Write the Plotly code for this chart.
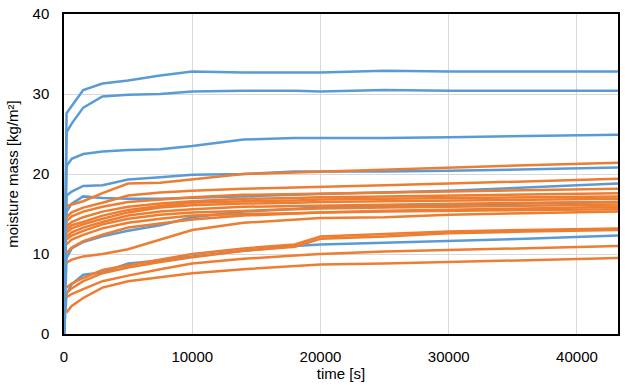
import plotly.graph_objects as go

# time grid [s]
time = [0, 200, 600, 1500, 3000, 5000, 7500, 10000, 14000, 18000, 20000, 25000, 30000, 36000, 43200]

# blue series (start at t=0)
blue_series = [
    [0, 27.6, 28.5, 30.5, 31.3, 31.7, 32.3, 32.8, 32.7, 32.7, 32.7, 32.9, 32.8, 32.8, 32.8],
    [0, 25.2, 26.3, 28.3, 29.7, 29.9, 30.0, 30.3, 30.4, 30.4, 30.3, 30.5, 30.4, 30.4, 30.4],
    [0, 21.0, 21.9, 22.5, 22.8, 23.0, 23.1, 23.5, 24.3, 24.5, 24.5, 24.5, 24.6, 24.7, 24.9],
    [0, 17.3, 17.8, 18.5, 18.6, 19.3, 19.6, 19.9, 20.0, 20.3, 20.3, 20.3, 20.4, 20.6, 20.8],
    [0, 15.3, 16.3, 17.2, 17.0, 16.9, 16.9, 17.0, 17.2, 17.4, 17.5, 17.7, 17.9, 18.3, 18.8],
    [0, 9.5, 10.7, 11.5, 12.2, 12.9, 13.6, 14.6, 15.3, 15.6, 15.8, 16.0, 16.1, 16.3, 16.5],
    [0, 5.0, 6.2, 7.4, 7.7, 8.8, 9.2, 9.7, 10.4, 11.0, 11.2, 11.4, 11.6, 11.9, 12.3],
]

# orange series (start at t=200)
orange_series = [
    [16.0, 16.2, 16.6, 17.6, 18.8, 18.9, 19.3, 20.0, 20.2, 20.3, 20.6, 20.8, 21.1, 21.4],
    [14.6, 15.2, 15.8, 16.4, 17.3, 17.7, 17.9, 18.15, 18.3, 18.4, 18.6, 18.8, 19.1, 19.4],
    [14.1, 14.7, 15.3, 15.9, 16.5, 16.8, 17.1, 17.4, 17.5, 17.6, 17.7, 17.85, 18.0, 18.15],
    [13.5, 14.0, 14.6, 15.3, 15.9, 16.3, 16.6, 16.9, 17.0, 17.1, 17.2, 17.3, 17.45, 17.6],
    [13.1, 13.6, 14.0, 14.8, 15.5, 16.0, 16.4, 16.6, 16.7, 16.8, 16.9, 17.0, 17.1, 17.2],
    [12.7, 13.2, 13.7, 14.4, 15.2, 15.8, 16.1, 16.3, 16.4, 16.5, 16.6, 16.7, 16.8, 16.9],
    [12.2, 12.7, 13.3, 14.0, 14.8, 15.3, 15.6, 15.9, 16.0, 16.05, 16.2, 16.3, 16.4, 16.5],
    [11.8, 12.3, 12.9, 13.7, 14.4, 14.9, 15.2, 15.4, 15.6, 15.7, 15.8, 15.9, 16.0, 16.2],
    [11.2, 11.8, 12.4, 13.2, 13.9, 14.4, 14.8, 15.0, 15.1, 15.2, 15.3, 15.4, 15.5, 15.6],
    [10.1, 10.8, 11.6, 12.4, 13.3, 13.8, 14.3, 14.8, 15.1, 15.2, 15.4, 15.5, 15.7, 15.9],
    [8.9, 9.3, 9.7, 10.0, 10.6, 11.8, 13.0, 13.9, 14.3, 14.5, 14.6, 14.9, 15.1, 15.3],
    [5.8, 6.3, 7.0, 8.0, 8.6, 9.3, 10.0, 10.7, 11.2, 12.2, 12.5, 12.8, 13.0, 13.2],
    [5.1, 5.7, 6.6, 7.6, 8.3, 9.0, 9.6, 10.4, 10.9, 11.9, 12.2, 12.6, 12.8, 13.0],
    [4.6, 5.0, 5.6, 6.6, 7.3, 8.1, 8.8, 9.4, 9.8, 10.0, 10.3, 10.5, 10.7, 11.0],
    [2.7, 3.5, 4.5, 5.8, 6.6, 7.1, 7.6, 8.1, 8.5, 8.7, 8.8, 9.0, 9.2, 9.5],
]

x_ticks = [0, 10000, 20000, 30000, 40000]
y_ticks = [0, 10, 20, 30, 40]

BLUE = "#5B9BD5"
ORANGE = "#ED7D31"

fig = go.Figure()
for s in blue_series:
    fig.add_trace(go.Scatter(x=time, y=s, mode="lines",
                             line=dict(color=BLUE, width=2.5), showlegend=False))
for s in orange_series:
    fig.add_trace(go.Scatter(x=time[1:], y=s, mode="lines",
                             line=dict(color=ORANGE, width=2.5), showlegend=False))

font = dict(family="Liberation Sans, Arial, sans-serif", size=15, color="#000000")
fig.update_layout(
    width=625, height=385,
    margin=dict(l=64, r=7, t=14, b=51, autoexpand=False),
    paper_bgcolor="white", plot_bgcolor="white",
    font=font,
    showlegend=False,
)
fig.update_xaxes(
    range=[0, 43200], tickvals=x_ticks, ticktext=[str(v) for v in x_ticks],
    showgrid=True, gridcolor="#D9D9D9", gridwidth=1,
    showline=True, linecolor="black", linewidth=1.5, mirror=True,
    zeroline=False, ticks="", ticklabelstandoff=8,
    title=dict(text="time [s]", font=font, standoff=2),
)
fig.update_yaxes(
    range=[0, 40], tickvals=y_ticks, ticktext=[str(v) for v in y_ticks],
    showgrid=True, gridcolor="#D9D9D9", gridwidth=1,
    showline=True, linecolor="black", linewidth=1.5, mirror=True,
    zeroline=False, ticks="", ticklabelstandoff=10,
    title=dict(text="moisture mass [kg/m²]", font=font, standoff=10),
)
fig.write_html("out.html", config={"displayModeBar": False},
               post_script="document.body.style.margin='0';")
